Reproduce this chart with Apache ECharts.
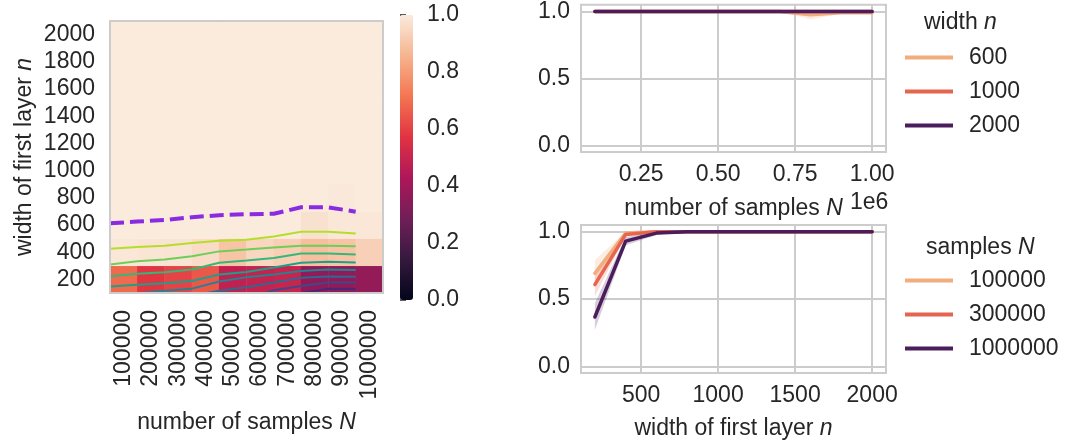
<!DOCTYPE html>
<html><head><meta charset="utf-8">
<script src="https://cdn.jsdelivr.net/npm/echarts@6/dist/echarts.min.js"></script>
<style>html,body{margin:0;padding:0;background:#fff}#c{width:1090px;height:444px}</style>
</head><body><div id="c"></div><script>
// ---------------- data ----------------
const samplesN = [100000,200000,300000,400000,500000,600000,700000,800000,900000,1000000];
const widthsN  = [200,400,600,800,1000,1200,1400,1600,1800,2000];
// accuracy per width n (rows), over samples N (columns)
const acc200  = [0.69,0.575,0.607,0.65,0.48,0.49,0.50,0.36,0.36,0.366];
const acc400  = [0.99,0.985,0.98,0.96,0.90,0.945,0.925,0.885,0.90,0.93];
const acc600  = [1,1,1,1,1,1,1,0.975,0.99,0.99];
const acc800  = [1,1,1,1,1,1,1,1,0.995,1];
const acc1000 = [1,1,1,1,1,1,1,1,1,1];
const acc1200 = [1,1,1,1,1,1,1,1,1,1];
const acc1400 = [1,1,1,1,1,1,1,1,1,1];
const acc1600 = [1,1,1,1,1,1,1,1,1,1];
const acc1800 = [1,1,1,1,1,1,1,1,1,1];
const acc2000 = [1,1,1,1,1,1,1,1,1,1];
const heatRows = [acc200,acc400,acc600,acc800,acc1000,acc1200,acc1400,acc1600,acc1800,acc2000];

// contour lines, in (column index, width n) space
const contourA = [[0,426],[1,438],[2,448],[3,468],[4,484],[5,492],[6,516],[7,550],[8,550],[9,537]];
const contourB = [[0,309],[1,333],[2,346],[3,370],[4,406],[5,419],[6,435],[7,448],[8,448],[9,443]];
const contourC = [[0,224],[1,242],[2,253],[3,273],[4,322],[5,339],[6,358],[7,390],[8,390],[9,384]];
const contourD = [[0,147],[1,160],[2,171],[3,188],[4,236],[5,255],[6,287],[7,322],[8,329],[9,324]];
const contourE = [[1.1,100],[2,116],[3,132],[4,185],[5,215],[6,236],[7,262],[8,273],[9,269]];
const contourF = [[3.55,100],[4,116],[5,142],[6,178],[7,212],[8,222],[9,220]];
const contourG = [[5.7,100],[6,120],[7,151],[8,178],[9,178]];
const contourH = [[7.05,100],[8,132],[9,129]];
const thresholdLine = [[0,613],[1,625],[2,637],[3,657],[4,672],[5,679],[6,683],[7,730],[8,730],[9,698]];

// confidence bands
const band600Lo   = [1,1,1,1,1,1,1,0.94,0.985,0.98];
const band600Hi   = [1,1,1,1,1,1,1,1,1,1];
const band1e5Lo   = [0.60,0.985,1,1,1,1,1,1,1,1];
const band1e5Hi   = [0.79,1,1,1,1,1,1,1,1,1];
const band3e5Lo   = [0.52,0.97,1,1,1,1,1,1,1,1];
const band3e5Hi   = [0.70,0.995,1,1,1,1,1,1,1,1];
const band1e6Lo   = [0.27,0.90,0.975,1,1,1,1,1,1,1];
const band1e6Hi   = [0.47,0.96,0.998,1,1,1,1,1,1,1];

const topXTicks = [0.25,0.5,0.75,1.0];
const botXTicks = [500,1000,1500,2000];
const accTicks = [0,0.5,1.0];

// ---------------- styling ----------------
const FONT = '"Liberation Sans", Arial, sans-serif';
const TXT = '#262626';
const GRIDC = '#cccccc';
const FS = 23;
const rocket = ['#03051a','#35193e','#701f57','#ad1759','#e13342','#f37651','#f6b48f','#faebdd'];
const cLight = '#f2ad7f', cMid = '#e6654f', cDark = '#4b1d5c';
const contourColors = ['#b5de2b','#6ece58','#35b779','#1f9e89','#26828e','#31688e','#3e4989','#482878'];

const chart = echarts.init(document.getElementById('c'), null, {renderer:'canvas'});

const heatData = [];
heatRows.forEach((row,j)=>row.forEach((v,i)=>heatData.push([i,j,v])));

const txt = (extra)=>Object.assign({fontSize:FS,color:TXT,fontFamily:FONT},extra||{});
const rich = {i:{fontStyle:'italic',fontSize:FS,color:TXT,fontFamily:FONT}};

const series = [];
series.push({type:'heatmap', xAxisIndex:0, yAxisIndex:0, data:heatData, z:1});
[contourA,contourB,contourC,contourD,contourE,contourF,contourG,contourH].forEach((d,k)=>{
  series.push({type:'line', xAxisIndex:1, yAxisIndex:1, data:d, symbol:'none', silent:true, z:3,
    lineStyle:{color:contourColors[k], width:2}});
});
series.push({type:'line', xAxisIndex:1, yAxisIndex:1, data:thresholdLine, symbol:'none', silent:true, z:4,
  lineStyle:{color:'#8a2be2', width:4, type:[14,6], cap:'butt'}});

function addBand(xs, lo, hi, color, xi, yi){
  series.push({type:'custom', xAxisIndex:xi, yAxisIndex:yi, silent:true, z:2,
    data:[[xs[0], lo[0]]],
    renderItem:(params, api)=>{
      const pts = [];
      xs.forEach((x,k)=>pts.push(api.coord([x, hi[k]])));
      for (let k=xs.length-1;k>=0;k--) pts.push(api.coord([xs[k], lo[k]]));
      return {type:'polygon', shape:{points:pts}, style:{fill:color, opacity:0.22}};
    }});
}
function addLine(name, data, color, xi, yi){
  series.push({type:'line', name:name, xAxisIndex:xi, yAxisIndex:yi, symbol:'none', data:data, z:5,
    color:color, itemStyle:{color:color}, lineStyle:{color:color, width:3.5, cap:'round', join:'round'}});
}
const topX = samplesN.map(v=>v/1e6);
addBand(topX, band600Lo, band600Hi, cLight, 3, 3);
addLine('600',  topX.map((x,k)=>[x, heatRows[widthsN.indexOf(600)][k]]),  cLight, 3, 3);
addLine('1000', topX.map((x,k)=>[x, heatRows[widthsN.indexOf(1000)][k]]), cMid, 3, 3);
addLine('2000', topX.map((x,k)=>[x, heatRows[widthsN.indexOf(2000)][k]]), cDark, 3, 3);

addBand(widthsN, band1e5Lo, band1e5Hi, cLight, 4, 4);
addBand(widthsN, band3e5Lo, band3e5Hi, cMid, 4, 4);
addBand(widthsN, band1e6Lo, band1e6Hi, cDark, 4, 4);
const colOf = (N)=>widthsN.map((n,j)=>[n, heatRows[j][samplesN.indexOf(N)]]);
addLine('100000',  colOf(100000),  cLight, 4, 4);
addLine('300000',  colOf(300000),  cMid, 4, 4);
addLine('1000000', colOf(1000000), cDark, 4, 4);

const border = {show:true, lineStyle:{color:GRIDC, width:2}};
const valAxisCommon = (min,max,ticks,fmt,extra)=>Object.assign({
  type:'value', min:min, max:max,
  axisLine:{show:false}, axisTick:{show:false, customValues:ticks},
  axisLabel:{customValues:ticks, formatter:fmt, fontSize:FS, color:TXT, fontFamily:FONT, margin:11},
  splitLine:{show:true, lineStyle:{color:GRIDC, width:2}}
}, extra||{});

const option = {
  animation:false,
  backgroundColor:'#ffffff',
  textStyle:{fontFamily:FONT},
  grid:[
    {left:110, top:21, width:273, height:272},
    {left:400, top:15, width:13, height:285},
    {left:581, top:4, width:305, height:148, show:true, borderColor:GRIDC, borderWidth:2},
    {left:581, top:225, width:305, height:148, show:true, borderColor:GRIDC, borderWidth:2}
  ],
  xAxis:[
    {type:'category', gridIndex:0, data:samplesN.map(String), z:10,
     axisLine:border, axisTick:{show:false}, splitLine:{show:false},
     axisLabel:{rotate:90, interval:0, margin:17, fontSize:FS, color:TXT, fontFamily:FONT},
     name:'number of samples {i|N}', nameLocation:'middle', nameGap:118,
     nameTextStyle:txt({rich:rich})},
    {type:'value', gridIndex:0, position:'top', min:0, max:10, z:10,
     axisLine:border, axisTick:{show:false}, axisLabel:{show:false}, splitLine:{show:false}},
    {type:'value', gridIndex:1, show:false},
    valAxisCommon(0.055,1.045,topXTicks,(v)=>v.toFixed(2),{gridIndex:2,
      name:'number of samples {i|N}', nameLocation:'middle', nameGap:45, nameTextStyle:txt({rich:rich})}),
    valAxisCommon(110,2090,botXTicks,(v)=>String(v),{gridIndex:3,
      name:'width of first layer {i|n}', nameLocation:'middle', nameGap:44, nameTextStyle:txt({rich:rich})})
  ],
  yAxis:[
    {type:'category', gridIndex:0, data:widthsN.map(String), z:10,
     axisLine:border, axisTick:{show:false}, splitLine:{show:false},
     axisLabel:{interval:0, margin:15, fontSize:FS, color:TXT, fontFamily:FONT},
     name:'width of first layer {i|n}', nameLocation:'middle', nameGap:74,
     nameTextStyle:txt({rich:rich})},
    {type:'value', gridIndex:0, position:'right', min:100, max:2100, z:10,
     axisLine:border, axisTick:{show:false}, axisLabel:{show:false}, splitLine:{show:false}},
    {type:'value', gridIndex:1, position:'right', min:0, max:1, interval:0.2,
     axisLine:{show:false}, axisTick:{show:true, length:6, lineStyle:{color:TXT, width:1.5}},
     axisLabel:{margin:14, formatter:(v)=>v.toFixed(1), fontSize:FS, color:TXT, fontFamily:FONT},
     splitLine:{show:false}},
    valAxisCommon(-0.05,1.05,accTicks,(v)=>v.toFixed(1),{gridIndex:2}),
    valAxisCommon(-0.05,1.05,accTicks,(v)=>v.toFixed(1),{gridIndex:3})
  ],
  visualMap:{type:'continuous', seriesIndex:0, min:0, max:1, calculable:false, show:true,
    left:400, top:15, itemWidth:13, itemHeight:285, padding:0, text:null,
    inRange:{color:rocket}, hoverLink:false, realtime:false,
    indicatorSize:0, handleSize:0, indicatorStyle:{opacity:0}, handleStyle:{opacity:0}},
  title:[
    {text:'width {i|n}', left:924, top:11, padding:0, textStyle:txt({fontWeight:'normal', rich:rich})},
    {text:'samples {i|N}', left:926, top:236, padding:0, textStyle:txt({fontWeight:'normal', rich:rich})},
    {text:'1e6', left:850, top:191, padding:0, textStyle:txt({fontWeight:'normal'})}
  ],
  legend:[
    {data:['600','1000','2000'], orient:'vertical', left:905, top:46, itemWidth:48, itemHeight:4,
     itemGap:11, icon:'rect', padding:0, selectedMode:false,
     textStyle:txt({padding:[0,0,0,11]})},
    {data:['100000','300000','1000000'], orient:'vertical', left:905, top:269, itemWidth:48, itemHeight:4,
     itemGap:11, icon:'rect', padding:0, selectedMode:false,
     textStyle:txt({padding:[0,0,0,11]})}
  ],
  series:series
};
chart.setOption(option);
</script></body></html>
